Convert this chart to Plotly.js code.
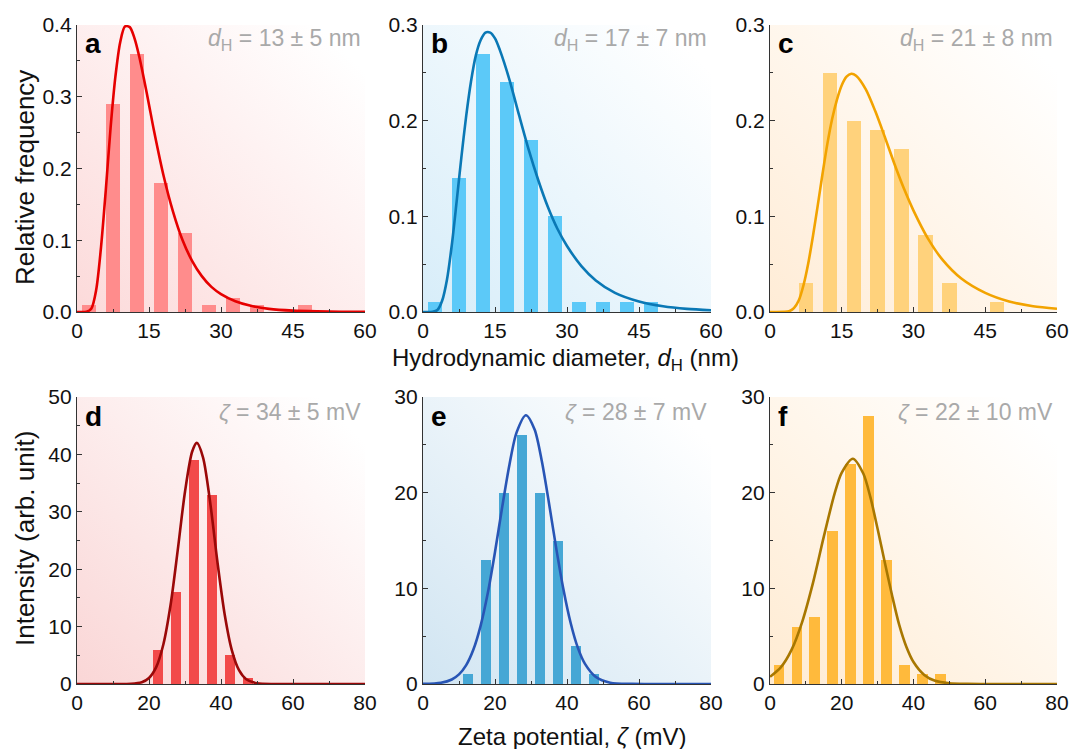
<!DOCTYPE html>
<html>
<head>
<meta charset="utf-8">
<script src="https://cdn.plot.ly/plotly-3.0.1.min.js"></script>
<style>html,body{margin:0;padding:0;background:#fff;}#chart{width:1073px;height:749px;}</style>
</head>
<body>
<div id="chart"></div>
<script>
// ---- Data ----
const binCenters = [2.5, 7.5, 12.5, 17.5, 22.5, 27.5, 32.5, 37.5, 42.5, 47.5];
const freqA = [0.01, 0.29, 0.36, 0.18, 0.11, 0.01, 0.02, 0.01, 0, 0.01];
const freqB = [0.01, 0.14, 0.27, 0.24, 0.18, 0.10, 0.01, 0.01, 0.01, 0.01];
const freqC = [0, 0.03, 0.25, 0.20, 0.19, 0.17, 0.08, 0.03, 0, 0.01];
const intD = [0, 0, 0, 0, 6, 16, 39, 33, 5, 1];
const intE = [0, 0, 1, 13, 20, 26, 20, 15, 4, 1];
const intF = [2, 6, 7, 16, 23, 28, 13, 2, 1, 1];

const fitAx = [0, 2, 3, 4, 5, 6, 7, 8, 9, 10, 11, 12, 13, 14, 15, 16, 18, 20, 22, 24, 26, 28, 30, 33, 36, 40, 45, 50, 55, 60];
const fitAy = [0, 0.0004, 0.005, 0.031, 0.09, 0.17, 0.257, 0.328, 0.376, 0.398, 0.397, 0.381, 0.355, 0.323, 0.289, 0.254, 0.191, 0.140, 0.100, 0.071, 0.050, 0.035, 0.025, 0.015, 0.009, 0.0044, 0.0019, 0.0009, 0.0004, 0.0002];
const fitBx = [0, 2, 3, 4, 5, 6, 7, 8, 9, 10, 11, 12, 13, 14, 15, 16, 18, 20, 22, 24, 26, 28, 30, 33, 36, 40, 45, 50, 55, 60];
const fitBy = [0, 0.0001, 0.002, 0.012, 0.034, 0.070, 0.115, 0.162, 0.205, 0.241, 0.268, 0.284, 0.292, 0.292, 0.286, 0.274, 0.243, 0.206, 0.170, 0.138, 0.110, 0.087, 0.069, 0.048, 0.033, 0.020, 0.011, 0.006, 0.0033, 0.0019];
const fitCx = [0, 3, 4, 5, 6, 7, 8, 9, 10, 11, 12, 13, 14, 15, 16, 17, 18, 20, 22, 24, 26, 28, 30, 33, 36, 40, 45, 50, 55, 60];
const fitCy = [0, 0.0001, 0.0008, 0.004, 0.012, 0.028, 0.051, 0.080, 0.112, 0.145, 0.176, 0.202, 0.222, 0.237, 0.246, 0.249, 0.247, 0.233, 0.210, 0.183, 0.155, 0.129, 0.106, 0.077, 0.055, 0.035, 0.020, 0.011, 0.006, 0.0034];
const fitDx = [0, 10, 15, 18, 20, 22, 24, 26, 28, 30, 32, 33.3, 35, 37, 39, 41, 43, 45, 47, 50, 55, 60, 70, 80];
const fitDy = [0, 0, 0.04, 0.32, 1.05, 2.94, 6.93, 13.8, 23.4, 33.5, 40.5, 42, 39.5, 31.6, 21.3, 12.2, 5.9, 2.4, 0.84, 0.13, 0, 0, 0, 0];
const fitEx = [0, 5, 8, 10, 12, 14, 16, 18, 20, 22, 24, 26, 28.6, 31, 33, 35, 37, 39, 41, 43, 45, 48, 52, 58, 65, 80];
const fitEy = [0.01, 0.13, 0.47, 1.0, 1.97, 3.6, 6.08, 9.5, 13.8, 18.5, 22.9, 26.3, 28.1, 26.6, 23.3, 18.9, 14.2, 9.9, 6.4, 3.8, 2.1, 0.74, 0.14, 0.01, 0, 0];
const fitFx = [0, 3, 6, 9, 12, 15, 18, 20, 23.1, 26, 28, 30, 32, 34, 36, 38, 40, 43, 46, 50, 55, 60, 70, 80];
const fitFy = [0.75, 1.74, 3.57, 6.53, 10.6, 15.4, 19.9, 22.1, 23.55, 22.0, 19.5, 16.2, 12.7, 9.3, 6.2, 3.9, 2.3, 0.95, 0.33, 0.08, 0.01, 0, 0, 0];

const panelLetters = ['a', 'b', 'c', 'd', 'e', 'f'];
const statLabels = [
  '<i>d</i><sub>H</sub> = 13 ± 5 nm',
  '<i>d</i><sub>H</sub> = 17 ± 7 nm',
  '<i>d</i><sub>H</sub> = 21 ± 8 nm',
  '<i>ζ</i> = 34 ± 5 mV',
  '<i>ζ</i> = 28 ± 7 mV',
  '<i>ζ</i> = 22 ± 10 mV'
];

// ---- Styling ----
const W = 1073, H = 749;
const FONT = 'Liberation Sans, Arial, sans-serif';
const colsPx = [[77, 365], [423, 711], [770, 1057]];
const rowsPx = [[25, 312], [397, 684]];
const barColors = ['#ff8c8c', '#5cc9f8', '#ffd27c', '#f24a4a', '#46a7d5', '#ffba3c'];
const lineColors = ['#e60000', '#0a78b5', '#f2a300', '#9a0808', '#2855b5', '#a87700'];
const bgColors = ['#fcdada', '#d7edf9', '#ffecd6', '#fad6d6', '#d1e5f2', '#ffebd2'];

const barsY = [freqA, freqB, freqC, intD, intE, intF];
const fitsX = [fitAx, fitBx, fitCx, fitDx, fitEx, fitFx];
const fitsY = [fitAy, fitBy, fitCy, fitDy, fitEy, fitFy];
const yRanges = [[0, 0.4], [0, 0.3], [0, 0.3], [0, 50], [0, 30], [0, 30]];

const traces = [];
const layout = {
  width: W, height: H,
  margin: {l: 0, r: 0, t: 0, b: 0},
  paper_bgcolor: '#ffffff',
  plot_bgcolor: 'rgba(0,0,0,0)',
  showlegend: false,
  hovermode: false,
  bargap: 0,
  font: {family: FONT, color: '#111'},
  annotations: [],
  images: []
};

function gradSvg(c) {
  const s = "<svg xmlns='http://www.w3.org/2000/svg' width='100' height='100' viewBox='0 0 100 100' preserveAspectRatio='none'>" +
    "<defs><linearGradient id='g' x1='0' y1='1' x2='1' y2='0'>" +
    "<stop offset='0' stop-color='" + c + "'/><stop offset='0.92' stop-color='#ffffff'/></linearGradient></defs>" +
    "<rect width='100' height='100' fill='url(#g)'/></svg>";
  return 'data:image/svg+xml;charset=utf-8,' + encodeURIComponent(s);
}

for (let i = 0; i < 6; i++) {
  const r = Math.floor(i / 3), c = i % 3;
  const k = i + 1;
  const xs = k === 1 ? '' : String(k);
  const xd = [colsPx[c][0] / W, colsPx[c][1] / W];
  const yd = [1 - rowsPx[r][1] / H, 1 - rowsPx[r][0] / H];
  const top = r === 0;
  traces.push({
    type: 'bar', x: binCenters, y: barsY[i], width: 3,
    marker: {color: barColors[i], line: {width: 0}},
    xaxis: 'x' + xs, yaxis: 'y' + xs
  });
  traces.push({
    type: 'scatter', mode: 'lines', x: fitsX[i], y: fitsY[i],
    line: {color: lineColors[i], width: 2.6, shape: 'spline', smoothing: 0.8},
    xaxis: 'x' + xs, yaxis: 'y' + xs
  });
  const common = {
    ticks: 'inside', ticklen: 5, tickwidth: 1, tickcolor: '#333',
    showline: true, linecolor: '#333', linewidth: 1.2,
    showgrid: false, zeroline: false, fixedrange: true,
    tickfont: {family: FONT, size: 21, color: '#111'}
  };
  layout['xaxis' + xs] = Object.assign({}, common, {
    domain: xd, anchor: 'y' + xs,
    range: top ? [0, 60] : [0, 80],
    tick0: 0, dtick: top ? 15 : 20,
    minor: {ticks: 'inside', ticklen: 3, dtick: top ? 7.5 : 10, tickcolor: '#333', tickwidth: 1}
  });
  const yr = yRanges[i];
  layout['yaxis' + xs] = Object.assign({}, common, {
    domain: yd, anchor: 'x' + xs, range: yr,
    tick0: 0, dtick: top ? 0.1 : 10,
    tickformat: top ? '.1f' : 'd',
    minor: {ticks: 'inside', ticklen: 3, dtick: top ? 0.05 : 5, tickcolor: '#333', tickwidth: 1}
  });
  layout.images.push({
    source: gradSvg(bgColors[i]), xref: 'paper', yref: 'paper',
    x: xd[0], y: yd[1], sizex: xd[1] - xd[0], sizey: yd[1] - yd[0],
    xanchor: 'left', yanchor: 'top', sizing: 'stretch', layer: 'below'
  });
  layout.annotations.push({
    text: '<b>' + panelLetters[i] + '</b>', xref: 'paper', yref: 'paper',
    x: xd[0] + 6 / W, y: yd[1] - 19 / H, xanchor: 'left', yanchor: 'middle',
    showarrow: false, font: {family: FONT, size: 28, color: '#000'}
  });
  layout.annotations.push({
    text: statLabels[i], xref: 'paper', yref: 'paper',
    x: xd[1] - 2 / W, y: yd[1] - 15 / H, xanchor: 'right', yanchor: 'middle',
    showarrow: false, font: {family: FONT, size: 23, color: '#a9a9a9'}
  });
}

layout.annotations.push(
  {text: 'Relative frequency', xref: 'paper', yref: 'paper', x: 25 / W, y: 1 - 178 / H,
   textangle: -90, showarrow: false, xanchor: 'center', yanchor: 'middle',
   font: {family: FONT, size: 26, color: '#111'}},
  {text: 'Intensity (arb. unit)', xref: 'paper', yref: 'paper', x: 25 / W, y: 1 - 539 / H,
   textangle: -90, showarrow: false, xanchor: 'center', yanchor: 'middle',
   font: {family: FONT, size: 26, color: '#111'}},
  {text: 'Hydrodynamic diameter, <i>d</i><sub>H</sub> (nm)', xref: 'paper', yref: 'paper',
   x: 565 / W, y: 1 - 359 / H, showarrow: false, xanchor: 'center', yanchor: 'middle',
   font: {family: FONT, size: 24, color: '#111'}},
  {text: 'Zeta potential, <i>ζ</i> (mV)', xref: 'paper', yref: 'paper',
   x: 572 / W, y: 1 - 736 / H, showarrow: false, xanchor: 'center', yanchor: 'middle',
   font: {family: FONT, size: 24, color: '#111'}}
);

Plotly.newPlot('chart', traces, layout, {displayModeBar: false, staticPlot: true});
</script>
</body>
</html>
